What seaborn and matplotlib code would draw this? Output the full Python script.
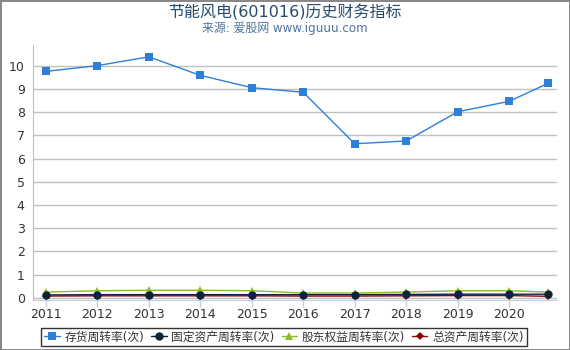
import pandas as pd
import matplotlib
matplotlib.use('Agg')
import matplotlib.pyplot as plt
import seaborn as sns

# x positions: year ends, last point is a partial year (Q3)
years = [2011, 2012, 2013, 2014, 2015, 2016, 2017, 2018, 2019, 2020, 2020.75]
tick_years = [2011, 2012, 2013, 2014, 2015, 2016, 2017, 2018, 2019, 2020]

inventory = [9.76, 10.01, 10.39, 9.59, 9.06, 8.86, 6.64, 6.76, 8.02, 8.47, 9.24]
fixed_assets = [0.12, 0.13, 0.13, 0.13, 0.13, 0.13, 0.13, 0.14, 0.15, 0.15, 0.15]
equity = [0.24, 0.30, 0.32, 0.32, 0.30, 0.20, 0.20, 0.24, 0.30, 0.30, 0.24]
total_assets = [0.07, 0.08, 0.08, 0.08, 0.08, 0.07, 0.07, 0.08, 0.09, 0.09, 0.06]

names = ['存货周转率(次)', '固定资产周转率(次)', '股东权益周转率(次)', '总资产周转率(次)']

sns.set_style('white')
plt.rcParams['font.family'] = ['DejaVu Sans', 'Noto Sans CJK SC']

df = pd.DataFrame({'x': years, names[0]: inventory, names[1]: fixed_assets,
                   names[2]: equity, names[3]: total_assets})

fig = plt.figure(figsize=(5.7, 3.5), dpi=100)
fig.patch.set_edgecolor('#888888')
fig.patch.set_linewidth(2)
ax = fig.add_axes([33 / 570, 1 - 300 / 350, 524 / 570, 255 / 350])

styles = [('#2f7ed8', 's', 6), ('#0d233a', 'o', 6), ('#8bbc21', '^', 6), ('#910000', 'D', 4)]
zorders = {0: 6, 1: 5, 2: 4, 3: 3}
for i in [3, 2, 1, 0]:
    c, m, ms = styles[i]
    sns.lineplot(data=df, x='x', y=names[i], ax=ax, color=c, marker=m, markersize=ms,
                 markeredgewidth=0, linewidth=1, label=names[i], zorder=zorders[i])

ax.set_xlim(2010.75, 2020.93)
ax.set_ylim(-0.1, 10.9)
ax.set_yticks(range(0, 11))
ax.set_xticks(tick_years)
ax.set_xticklabels([str(y) for y in tick_years])
ax.grid(axis='y', color='#c0c0c0', linewidth=1)
ax.set_axisbelow(True)
ax.set_xlabel('')
ax.set_ylabel('')
for s in ['top', 'right']:
    ax.spines[s].set_visible(False)
ax.spines['left'].set_color('#c0c0c0')
ax.spines['bottom'].set_color('#c0d0e0')
ax.tick_params(axis='x', colors='#c0d0e0', labelcolor='#333333', length=5, width=1,
               direction='out', labelsize=9, pad=1)
ax.tick_params(axis='y', length=0, labelcolor='#333333', labelsize=9, pad=6)
ax.tick_params(bottom=True)

fig.text(0.5, 0.965, '节能风电(601016)历史财务指标', ha='center', va='center',
         fontsize=11.5, color='#274b6d')
fig.text(0.5, 0.92, '来源: 爱股网 www.iguuu.com', ha='center', va='center',
         fontsize=8.6, color='#4d759e')

handles, labels = ax.get_legend_handles_labels()
hmap = dict(zip(labels, handles))
leg = ax.legend([hmap[n] for n in names], names, loc='center', ncol=4,
                bbox_to_anchor=(284 / 570, 1 - 337 / 350), bbox_transform=fig.transFigure,
                frameon=True, fancybox=False, edgecolor='black', fontsize=8.5,
                handlelength=1.3, handletextpad=0.4, columnspacing=0.6,
                borderpad=0.25, borderaxespad=0)
leg.get_frame().set_linewidth(1)
for t in leg.get_texts():
    t.set_color('#333333')

fig.savefig('out.png', dpi=100)
